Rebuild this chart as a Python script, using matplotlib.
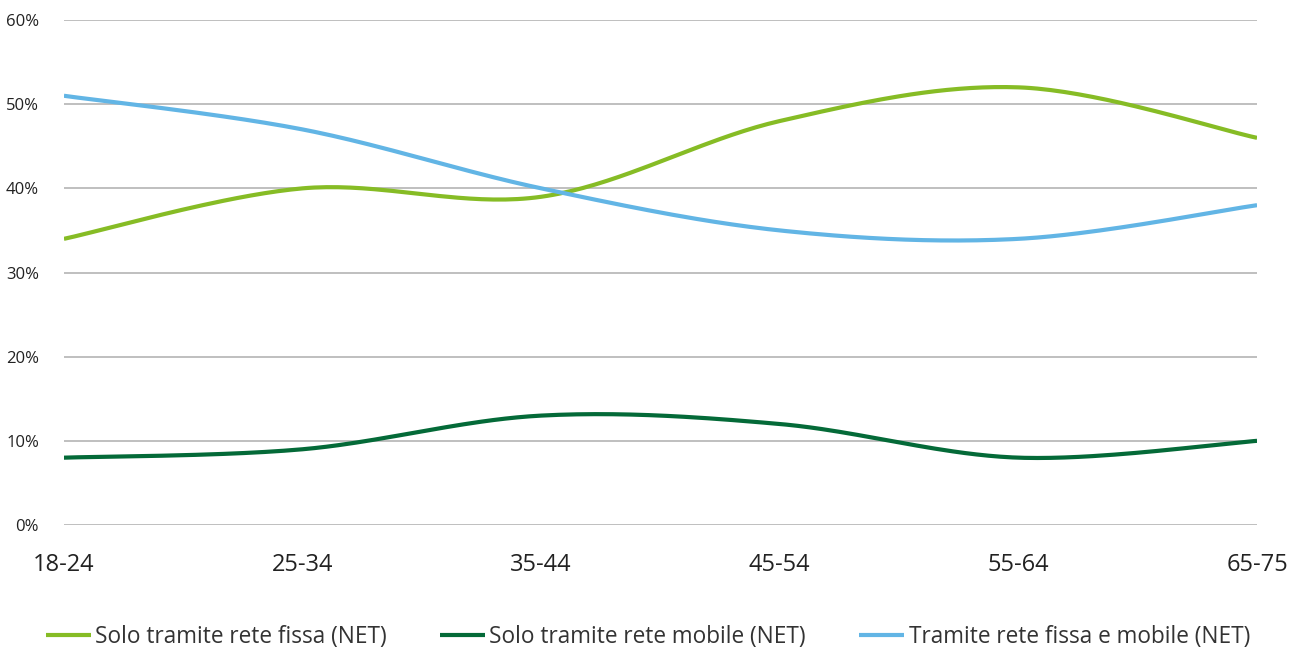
import numpy as np
import matplotlib.pyplot as plt

plt.rcParams['font.family'] = ['Open Sans', 'DejaVu Sans']

# fasce d'età e quote (%) per tipo di connessione
fasce = ['18-24', '25-34', '35-44', '45-54', '55-64', '65-75']
solo_fissa = [34, 40, 39, 48, 52, 46]
solo_mobile = [8, 9, 13, 12, 8, 10]
fissa_e_mobile = [51, 47, 40, 35, 34, 38]

serie = [
    ('Solo tramite rete fissa (NET)', solo_fissa, '#86BC25'),
    ('Solo tramite rete mobile (NET)', solo_mobile, '#046A38'),
    ('Tramite rete fissa e mobile (NET)', fissa_e_mobile, '#62B5E5'),
]


def smooth(y, n=40):
    """Curva levigata stile Excel (Catmull-Rom tra i punti)."""
    y = np.asarray(y, dtype=float)
    x = np.arange(len(y), dtype=float)
    px = np.concatenate([[x[0]], x, [x[-1]]])
    py = np.concatenate([[y[0]], y, [y[-1]]])
    xs, ys = [], []
    for i in range(1, len(px) - 2):
        t = np.linspace(0, 1, n, endpoint=(i == len(px) - 3))
        # punti di controllo Bezier
        b0x, b0y = px[i], py[i]
        b3x, b3y = px[i + 1], py[i + 1]
        b1x = px[i] + (px[i + 1] - px[i - 1]) / 6
        b1y = py[i] + (py[i + 1] - py[i - 1]) / 6
        b2x = px[i + 1] - (px[i + 2] - px[i]) / 6
        b2y = py[i + 1] - (py[i + 2] - py[i]) / 6
        a = (1 - t) ** 3
        b = 3 * (1 - t) ** 2 * t
        c = 3 * (1 - t) * t ** 2
        d = t ** 3
        xs.append(a * b0x + b * b1x + c * b2x + d * b3x)
        ys.append(a * b0y + b * b1y + c * b2y + d * b3y)
    return np.concatenate(xs), np.concatenate(ys)


fig = plt.figure(figsize=(12.97, 6.5), dpi=100)
ax = fig.add_axes([0.0493, 0.1923, 0.9199, 0.7769])

for nome, valori, colore in serie:
    xs, ys = smooth(valori)
    ax.plot(xs, ys, color=colore, linewidth=3, label=nome,
            solid_capstyle='butt', zorder=3)

ax.set_xlim(0, len(fasce) - 1)
ax.set_ylim(0, 60)
ax.set_yticks(range(0, 61, 10))
ax.set_yticklabels([f'{v}%' for v in range(0, 61, 10)], fontsize=12, color='#222222')
ax.set_xticks(range(len(fasce)))
ax.set_xticklabels(fasce, fontsize=17, color='#222222')
ax.tick_params(axis='both', length=0)
ax.tick_params(axis='y', pad=18)
ax.tick_params(axis='x', pad=20)

ax.grid(axis='y', color='#BFBFBF', linewidth=1.4, zorder=0)
for s in ax.spines.values():
    s.set_visible(False)

fig.legend(loc='center', bbox_to_anchor=(0.4995, 0.02), ncol=3, frameon=False,
           fontsize=16.3, handlelength=2.0, handletextpad=0.18,
           columnspacing=2.35, labelcolor='#333333')

fig.savefig('out.png', dpi=100)
